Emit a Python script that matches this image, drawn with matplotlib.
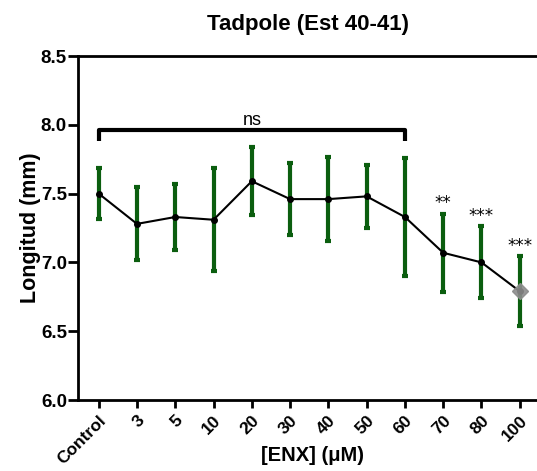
import numpy as np
import matplotlib
matplotlib.use("Agg")
import matplotlib.pyplot as plt

plt.rcParams['font.family'] = ['Liberation Sans', 'DejaVu Sans']

# Body length per ENX concentration (mean +/- SD)
groups = ['Control', '3', '5', '10', '20', '30', '40', '50', '60', '70', '80', '100']
length_mean = [7.50, 7.28, 7.33, 7.31, 7.59, 7.46, 7.46, 7.48, 7.33, 7.07, 7.00, 6.79]
length_sd = [0.187, 0.266, 0.24, 0.373, 0.247, 0.262, 0.303, 0.231, 0.427, 0.284, 0.262, 0.253]
stars = {'70': '**', '80': '***', '100': '***'}
ns_span = ('Control', '60')
ns_level = 7.96

green = '#0b5e0f'
x = np.arange(len(groups))

fig = plt.figure(figsize=(5.37, 4.71), dpi=100)
ax = fig.add_axes([0.1453, 0.1507, 0.8547, 0.7304])

ax.errorbar(x, length_mean, yerr=length_sd, fmt='none', ecolor=green,
            elinewidth=3, capsize=2.5, capthick=3, zorder=2)
ax.plot(x, length_mean, color='black', lw=1.5, marker='o', ms=4, zorder=3)
# last point highlighted with a grey diamond
ax.plot(x[-1], length_mean[-1], marker='D', ms=8, color='#8c8c8c',
        alpha=0.9, zorder=4, linestyle='none')

# significance marks above error bars
for g, s in stars.items():
    i = groups.index(g)
    ax.annotate(s, (x[i], length_mean[i] + length_sd[i]), xytext=(0, 1),
                textcoords='offset points', ha='center', va='bottom',
                fontsize=12, family='DejaVu Sans')

# "ns" bracket
i0, i1 = groups.index(ns_span[0]), groups.index(ns_span[1])
ax.plot([x[i0], x[i0], x[i1], x[i1]],
        [ns_level - 0.08, ns_level, ns_level, ns_level - 0.08],
        color='black', lw=3, solid_capstyle='butt', clip_on=False)
ax.text((x[i0] + x[i1]) / 2, ns_level + 0.012, 'ns', ha='center',
        va='bottom', fontsize=13)

ax.set_xlim(-0.54, 11.45)
ax.set_ylim(6.0, 8.5)
ax.set_yticks([6.0, 6.5, 7.0, 7.5, 8.0, 8.5])
ax.set_yticklabels(['6.0', '6.5', '7.0', '7.5', '8.0', '8.5'],
                   fontsize=13.5, fontweight='bold')
ax.set_xticks(x)
ax.set_xticklabels(groups, rotation=45, ha='right', rotation_mode='anchor',
                   fontsize=12.5, fontweight='bold')

ax.spines['right'].set_visible(False)
for side in ['left', 'bottom', 'top']:
    ax.spines[side].set_linewidth(2)
ax.tick_params(axis='y', length=7, width=2, pad=1)
ax.tick_params(axis='x', length=6, width=2, pad=3)

ax.set_ylabel('Longitud (mm)', fontsize=15.5, fontweight='bold', labelpad=0)
ax.set_xlabel('[ENX] (\u03bcM)', fontsize=14.5, fontweight='bold')
ax.xaxis.set_label_coords(0.51, -0.135)
ax.set_title('Tadpole (Est 40-41)', fontsize=16, fontweight='bold', pad=19)

fig.savefig('out.png', dpi=100)
